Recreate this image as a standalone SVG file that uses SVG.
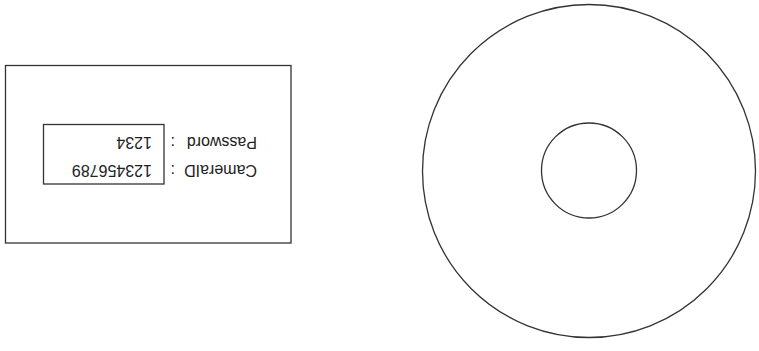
<svg xmlns="http://www.w3.org/2000/svg" width="759" height="351" viewBox="0 0 759 351">
<style>
.ln{fill:none;stroke:#333;stroke-width:1.3}
.t{font-family:"Liberation Sans",Arial,sans-serif;font-size:16px;fill:#222}
</style>
<rect width="759" height="351" fill="#fff"/>
<g id="card">
<rect class="ln" x="5.5" y="65.5" width="285.5" height="177.5"/>
<rect class="ln" x="43.5" y="124.5" width="120.5" height="59.5"/>
<g transform="rotate(180 148 154)">
<text class="t" x="39" y="143">CameraID</text>
<text class="t" x="121" y="143">:</text>
<text class="t" x="144" y="143">123456789</text>
<text class="t" x="39" y="171">Password</text>
<text class="t" x="121" y="171">:</text>
<text class="t" x="144" y="171">1234</text>
</g>
</g>
<g id="disc">
<circle class="ln" cx="589" cy="171" r="166.5"/>
<circle class="ln" cx="589" cy="170.5" r="47.5"/>
</g>
</svg>
